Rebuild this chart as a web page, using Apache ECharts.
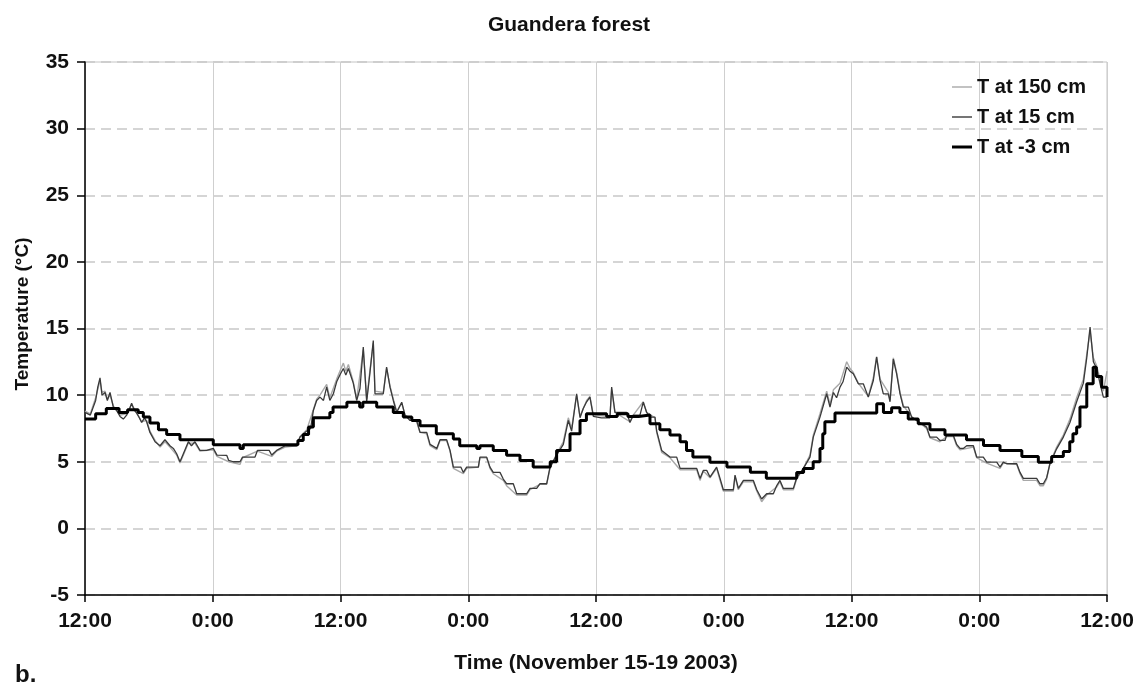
<!DOCTYPE html>
<html>
<head>
<meta charset="utf-8">
<script src="https://cdn.jsdelivr.net/npm/echarts@6/dist/echarts.min.js"></script>
<style>
html,body{margin:0;padding:0;background:#fff;}
#chart{width:1138px;height:685px;}
</style>
</head>
<body>
<div id="chart"></div>
<script>
// x values are hours since 12:00, Nov 15 2003
const xTickLabels = ['12:00','0:00','12:00','0:00','12:00','0:00','12:00','0:00','12:00'];
const seriesNames = ['T at 150 cm','T at 15 cm','T at -3 cm'];

const air150 = [[0,8.8],[0.5,8.6],[1.0,9.8],[1.41,11.1],[1.6,10.2],[1.88,10.3],[2.1,9.7],[2.35,10.0],[2.66,9.2],[3.29,8.5],[3.91,8.6],[4.38,9.3],[4.85,8.7],[5.32,8.0],[5.79,8.1],[6.1,7.3],[6.58,6.6],[7.05,6.1],[7.51,6.5],[7.98,6.1],[8.61,5.5],[8.92,4.9],[9.24,5.5],[9.71,6.4],[10.33,6.4],[10.8,5.8],[12.05,5.9],[12.4,5.4],[13.5,5.0],[14.56,4.8],[14.8,5.3],[16.2,5.8],[17.54,5.4],[18.0,5.8],[18.8,6.1],[19.88,6.2],[20.2,6.9],[20.83,7.4],[21.45,8.9],[21.76,9.7],[22.07,10.0],[22.7,10.8],[23.0,9.8],[23.64,11.2],[24.0,11.9],[24.27,12.4],[24.5,11.8],[24.74,12.3],[25.2,11.0],[25.52,9.7],[26.14,13.4],[26.46,9.7],[26.77,11.9],[27.08,13.9],[27.24,10.3],[28.02,10.2],[28.33,12.0],[28.65,10.7],[28.96,9.7],[29.28,8.8],[29.75,9.4],[30.06,8.5],[31.15,8.0],[31.47,7.2],[32.1,7.1],[32.41,6.2],[33.04,5.9],[33.35,6.6],[33.97,6.6],[34.29,5.8],[34.6,4.5],[35.54,4.1],[35.85,4.5],[36.95,4.6],[37.1,5.3],[37.73,5.3],[38.04,4.5],[38.35,4.1],[39.29,3.6],[39.6,3.2],[40.55,2.5],[41.49,2.5],[41.8,2.9],[42.74,3.3],[43.37,3.3],[43.68,4.5],[44.3,5.6],[44.93,6.5],[45.4,8.3],[45.71,7.5],[46.18,10.0],[46.5,8.4],[47.12,9.6],[47.43,9.9],[47.75,8.5],[49.31,8.4],[49.47,10.4],[49.78,8.7],[51.19,8.0],[51.5,8.5],[52.44,9.5],[52.76,8.7],[53.54,8.3],[53.7,7.2],[54.17,5.7],[54.95,5.3],[55.9,4.4],[57.46,4.4],[57.77,3.6],[58.08,4.3],[58.71,3.8],[59.33,4.5],[59.65,3.6],[59.96,2.8],[60.9,2.8],[61.06,3.9],[61.37,2.9],[61.85,3.5],[62.78,3.5],[63.1,2.8],[63.56,2.0],[64.03,2.5],[64.97,3.1],[65.28,3.5],[65.6,2.9],[66.54,2.9],[66.85,3.7],[67.48,4.5],[68.1,5.5],[68.41,7.0],[69.04,8.6],[69.67,10.3],[69.98,9.3],[70.3,10.4],[70.92,10.9],[71.55,12.5],[71.86,12.0],[72.17,11.7],[72.64,10.9],[73.58,9.9],[74.05,11.3],[74.36,12.9],[74.68,11.2],[75.46,10.2],[75.62,9.6],[75.93,12.8],[76.24,11.7],[76.56,10.2],[76.87,9.2],[77.65,8.4],[78.12,8.1],[79.06,7.5],[79.37,6.8],[80.31,6.5],[80.94,6.9],[81.56,6.9],[81.88,6.2],[82.19,5.9],[83.45,6.1],[83.76,5.3],[84.7,4.9],[85.95,4.5],[86.26,4.9],[87.52,4.8],[87.83,4.1],[88.14,3.6],[89.39,3.6],[89.7,3.2],[90.02,3.2],[90.33,3.7],[90.64,4.9],[91.27,6.1],[91.9,7.0],[92.52,8.2],[93.15,9.8],[93.78,11.2],[94.09,13.0],[94.41,14.8],[94.72,12.8],[95.03,12.2],[95.35,11.2],[95.66,10.3],[96,11.8]];

const air15 = [[0,8.7],[0.5,8.5],[1.0,9.6],[1.2,10.6],[1.41,11.3],[1.6,10.0],[1.88,10.2],[2.1,9.6],[2.35,10.2],[2.66,9.1],[2.97,8.85],[3.29,8.4],[3.6,8.2],[3.91,8.5],[4.2,9.0],[4.38,9.4],[4.6,8.9],[4.85,8.65],[5.1,8.3],[5.32,7.95],[5.6,8.3],[5.79,8.0],[6.1,7.2],[6.58,6.5],[7.05,6.2],[7.51,6.65],[7.98,6.2],[8.3,6.0],[8.61,5.6],[8.92,5.0],[9.24,5.6],[9.71,6.5],[10.0,6.2],[10.33,6.5],[10.8,5.85],[11.43,5.85],[12.05,6.0],[12.4,5.5],[13.31,5.48],[13.5,5.1],[13.93,5.0],[14.56,5.0],[14.8,5.35],[15.97,5.35],[16.2,5.85],[17.3,5.85],[17.54,5.5],[18.0,5.85],[18.8,6.2],[19.88,6.2],[20.2,6.85],[20.83,7.3],[21.2,7.5],[21.45,8.85],[21.76,9.6],[22.07,9.85],[22.4,9.6],[22.7,10.6],[23.0,9.6],[23.33,10.1],[23.64,11.0],[24.0,11.6],[24.27,12.0],[24.5,11.5],[24.74,12.0],[25.2,10.9],[25.52,9.6],[25.83,10.5],[26.14,13.6],[26.46,9.5],[26.77,11.7],[27.08,14.1],[27.24,10.1],[28.02,10.1],[28.33,12.1],[28.65,10.6],[28.96,9.6],[29.28,8.7],[29.75,9.47],[30.06,8.5],[30.53,8.1],[31.15,8.1],[31.47,7.2],[32.1,7.2],[32.41,6.3],[33.04,6.0],[33.35,6.65],[33.97,6.65],[34.29,5.85],[34.6,4.6],[35.3,4.6],[35.54,4.2],[35.85,4.6],[36.95,4.6],[37.1,5.35],[37.73,5.35],[38.04,4.6],[38.35,4.2],[38.98,4.2],[39.29,3.7],[39.6,3.35],[40.23,3.35],[40.55,2.6],[41.49,2.6],[41.8,3.0],[42.43,3.0],[42.74,3.35],[43.37,3.35],[43.68,4.6],[44.3,5.5],[44.93,6.3],[45.4,8.1],[45.71,7.3],[46.18,10.1],[46.5,8.3],[46.8,9.0],[47.12,9.5],[47.43,9.85],[47.75,8.4],[48.5,8.3],[49.31,8.3],[49.47,10.6],[49.78,8.7],[50.88,8.7],[51.19,7.95],[51.5,8.5],[52.13,8.5],[52.44,9.47],[52.76,8.7],[53.07,8.35],[53.54,8.35],[53.7,7.3],[54.17,5.85],[54.95,5.35],[55.58,5.35],[55.9,4.5],[57.46,4.5],[57.77,3.75],[58.08,4.35],[58.4,4.35],[58.71,3.85],[59.33,4.6],[59.65,3.75],[59.96,2.9],[60.9,2.9],[61.06,4.0],[61.37,3.0],[61.85,3.6],[62.78,3.6],[63.1,2.9],[63.56,2.2],[64.03,2.6],[64.66,2.6],[64.97,3.2],[65.28,3.6],[65.6,3.0],[66.54,3.0],[66.85,3.8],[67.48,4.5],[68.1,5.35],[68.41,6.85],[69.04,8.35],[69.67,10.1],[69.98,9.1],[70.3,10.2],[70.6,9.8],[70.92,10.6],[71.2,11.0],[71.55,12.1],[71.86,11.8],[72.17,11.6],[72.64,10.85],[73.11,10.85],[73.58,9.85],[73.74,9.9],[74.05,11.1],[74.36,12.85],[74.68,11.1],[74.99,10.1],[75.46,10.1],[75.62,9.5],[75.93,12.7],[76.24,11.6],[76.56,10.1],[76.87,9.1],[77.34,9.1],[77.65,8.35],[78.12,8.1],[79.06,7.6],[79.37,6.85],[80.0,6.85],[80.31,6.6],[80.78,6.6],[80.94,7.0],[81.56,7.0],[81.88,6.3],[82.19,6.0],[82.5,6.0],[82.82,6.2],[83.45,6.2],[83.76,5.35],[84.38,5.35],[84.7,4.97],[85.64,4.97],[85.95,4.6],[86.26,4.97],[86.58,4.85],[87.52,4.85],[87.83,4.2],[88.14,3.75],[89.39,3.75],[89.7,3.35],[90.02,3.35],[90.33,3.8],[90.64,4.85],[91.27,5.97],[91.9,6.85],[92.52,7.95],[93.15,9.5],[93.78,10.9],[94.09,12.75],[94.41,15.1],[94.72,12.5],[95.03,12.0],[95.35,10.85],[95.66,9.85],[96,9.85]];

const soil3 = [[0,8.2],[1.0,8.6],[2.0,9.0],[3.2,8.7],[4.0,8.9],[5.0,8.7],[5.48,8.35],[6.1,7.9],[6.9,7.4],[7.67,7.05],[8.92,6.65],[12.05,6.28],[14.56,6.0],[14.87,6.28],[20.0,6.6],[20.5,7.05],[21.0,7.6],[21.45,8.3],[23.0,8.7],[23.3,9.1],[24.6,9.47],[25.8,9.1],[26.1,9.47],[27.4,9.1],[28.96,8.7],[29.9,8.35],[30.7,8.1],[31.47,7.7],[33.0,7.1],[34.6,6.7],[35.2,6.2],[36.8,6.0],[37.1,6.2],[38.35,5.85],[39.6,5.48],[40.86,5.1],[42.1,4.6],[43.7,5.0],[44.3,5.85],[45.56,7.1],[46.5,8.1],[47.1,8.6],[49.0,8.4],[50.0,8.6],[51.0,8.4],[52.0,8.5],[53.07,7.85],[54.0,7.4],[54.95,7.0],[55.9,6.5],[56.5,5.85],[57.1,5.35],[58.7,4.97],[60.3,4.6],[62.5,4.22],[64.0,3.77],[66.85,4.2],[67.5,4.5],[68.4,5.0],[69.04,6.0],[69.3,7.1],[69.5,8.0],[70.45,8.65],[74.37,9.35],[75.0,8.7],[75.77,9.05],[76.55,8.7],[77.33,8.2],[78.27,7.85],[79.37,7.4],[80.78,7.0],[82.8,6.65],[84.4,6.22],[85.95,5.85],[88.0,5.4],[89.55,4.97],[90.8,5.4],[91.9,5.77],[92.5,6.5],[92.8,7.1],[93.15,7.6],[93.46,9.1],[94.1,10.85],[94.7,12.1],[95.0,11.4],[95.5,10.6],[96,9.85]];

const FONT = '"Liberation Sans", Arial, Helvetica, sans-serif';
// legend icons: horizontal line samples (extra moveTo points fix the icon box)
const thinIcon = 'path://M0,0 M0,6.3 L20,6.3 L20,7.7 L0,7.7 Z M20,14';
const thickIcon = 'path://M0,0 M0,5.5 L20,5.5 L20,8.5 L0,8.5 Z M20,14';

const chart = echarts.init(document.getElementById('chart'), null, {renderer: 'canvas'});
chart.setOption({
  animation: false,
  backgroundColor: '#fff',
  title: {
    text: 'Guandera forest', left: 'center', top: 10,
    textStyle: {fontFamily: FONT, fontSize: 21, fontWeight: 'bold', color: '#111'}
  },
  grid: {left: 85, right: 31, top: 62, bottom: 90, show: true, borderColor: '#c4c4c4', borderWidth: 1, backgroundColor: 'transparent'},
  legend: {
    orient: 'vertical', left: 947, top: 72,
    data: [
      {name: seriesNames[0], icon: thinIcon},
      {name: seriesNames[1], icon: thinIcon},
      {name: seriesNames[2], icon: thickIcon}
    ],
    itemWidth: 20, itemHeight: 14, itemGap: 10,
    textStyle: {fontFamily: FONT, fontSize: 20, fontWeight: 'bold', color: '#111', lineHeight: 20}
  },
  xAxis: {
    type: 'value', min: 0, max: 96, interval: 12,
    name: 'Time (November 15-19 2003)', nameLocation: 'middle', nameGap: 58,
    nameTextStyle: {fontFamily: FONT, fontSize: 21, fontWeight: 'bold', color: '#111'},
    axisLine: {show: true, onZero: false, lineStyle: {color: '#000', width: 1.5}},
    axisTick: {show: true, inside: false, length: 7, lineStyle: {color: '#000', width: 1.5}},
    axisLabel: {margin: 16, fontFamily: FONT, fontSize: 21, fontWeight: 'bold', color: '#111',
      formatter: function (v) { return xTickLabels[Math.round(v / 12)]; }},
    splitLine: {show: true, lineStyle: {color: '#cfcfcf', width: 1, type: 'solid'}}
  },
  yAxis: {
    type: 'value', min: -5, max: 35, interval: 5,
    axisLine: {show: true, onZero: false, lineStyle: {color: '#000', width: 1.5}},
    axisTick: {show: true, inside: false, length: 8, lineStyle: {color: '#000', width: 1.5}},
    axisLabel: {margin: 16, fontFamily: FONT, fontSize: 21, fontWeight: 'bold', color: '#111'},
    splitLine: {show: true, lineStyle: {color: '#c8c8c8', width: 1.5, type: [10, 6]}}
  },
  graphic: [
    {type: 'text', x: 23, y: 314, rotation: Math.PI / 2,
      style: {text: 'Temperature (°C)', fill: '#111', font: 'bold 19px ' + FONT, textAlign: 'center', textVerticalAlign: 'middle'}},
    {type: 'text', left: 15, top: 663,
      style: {text: 'b.', fill: '#111', font: 'bold 24px ' + FONT}}
  ],
  series: [
    {name: seriesNames[0], type: 'line', data: air150, symbol: 'none', z: 2,
      lineStyle: {color: '#a8a8a8', width: 1.4}, itemStyle: {color: '#a8a8a8'}},
    {name: seriesNames[1], type: 'line', data: air15, symbol: 'none', z: 3,
      lineStyle: {color: '#3a3a3a', width: 1.3}, itemStyle: {color: '#3a3a3a'}},
    {name: seriesNames[2], type: 'line', data: soil3, step: 'end', symbol: 'none', z: 4,
      lineStyle: {color: '#000', width: 3}, itemStyle: {color: '#000'}}
  ]
});
</script>
</body>
</html>
